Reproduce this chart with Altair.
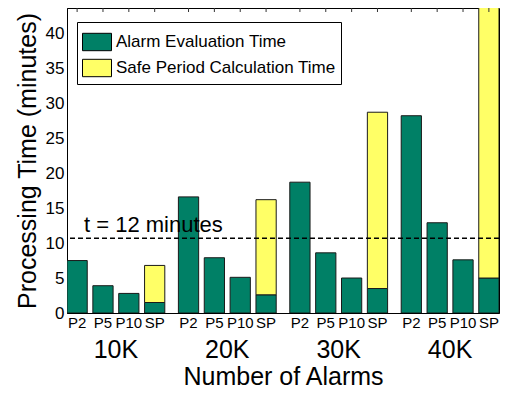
import altair as alt
import pandas as pd

groups = ["10K", "20K", "30K", "40K"]
methods = ["P2", "P5", "P10", "SP"]

# Alarm evaluation time (green) per group, for P2, P5, P10, SP
eval_10k = [7.5, 3.9, 2.8, 1.5]
eval_20k = [16.6, 7.9, 5.1, 2.6]
eval_30k = [18.7, 8.6, 5.0, 3.5]
eval_40k = [28.2, 12.9, 7.6, 5.0]
# Safe period calculation time (yellow), SP only
safe_period = [5.3, 13.6, 25.2, 39.0]

y_ticks = [0, 5, 10, 15, 20, 25, 30, 35, 40]
threshold = 10.7
threshold_label = "t = 12 minutes"

series_names = ["Alarm Evaluation Time", "Safe Period Calculation Time"]
colors = ["#008066", "#FFFF66"]

rows = []
for g, ev, sp in zip(groups, [eval_10k, eval_20k, eval_30k, eval_40k], safe_period):
    for m, v in zip(methods, ev):
        rows.append({"group": g, "method": m, "series": series_names[0], "ord": 0, "value": v})
    rows.append({"group": g, "method": "SP", "series": series_names[1], "ord": 1, "value": sp})
df = pd.DataFrame(rows)

labels_df = pd.DataFrame([{"group": g, "method": m} for g in groups for m in methods])

x_axis = alt.Axis(title="Number of Alarms", labelAngle=0, tickSize=0,
                  labelFontSize=25, labelPadding=24, titleFontSize=25,
                  titleFontWeight="normal", titlePadding=2,
                  domainColor="black", labelColor="black", titleColor="black")
x_scale = alt.Scale(paddingInner=0.122, paddingOuter=0)
xo_scale = alt.Scale(paddingInner=0.217, paddingOuter=0)

y_scale = alt.Scale(domain=[0, 43.6], nice=False)
y_axis = alt.Axis(values=y_ticks, tickSize=0, labelOverlap=False,
                  labelFontSize=17, labelPadding=3, grid=False,
                  title="Processing Time (minutes)", titleFontSize=25,
                  titleFontWeight="normal", titlePadding=5,
                  domainColor="black", labelColor="black", titleColor="black")


def xenc():
    return alt.X("group:N", sort=groups, scale=x_scale, axis=x_axis)


def xoenc():
    return alt.XOffset("method:N", sort=methods, scale=xo_scale)


bars = alt.Chart(df).mark_bar(stroke="#1a1a1a", strokeWidth=1, clip=True).encode(
    x=xenc(),
    xOffset=xoenc(),
    y=alt.Y("sum(value):Q", scale=y_scale, stack="zero", axis=y_axis),
    color=alt.Color("series:N", scale=alt.Scale(domain=series_names, range=colors),
                    legend=alt.Legend(title=None, orient="none", legendX=10, legendY=14,
                                      symbolType="M-1,-0.6H1V0.6H-1Z", symbolSize=841,
                                      symbolStrokeColor="black", symbolStrokeWidth=1,
                                      symbolOpacity=1, labelLimit=0,
                                      labelFontSize=17, labelColor="black", labelOffset=4,
                                      rowPadding=-4, padding=5,
                                      strokeColor="black", fillColor="white")),
    order=alt.Order("ord:Q", sort="ascending"),
)

ticks = alt.Chart(labels_df).mark_rule(color="#333333", strokeWidth=1).encode(
    x=xenc(),
    xOffset=xoenc(),
    y=alt.value(0),
    y2=alt.value(4),
)

bar_labels = alt.Chart(labels_df).mark_text(fontSize=15, baseline="alphabetic", color="black").encode(
    x=xenc(),
    xOffset=xoenc(),
    y=alt.value(320),
    text="method:N",
)

line = alt.Chart(pd.DataFrame({"t": [threshold]})).mark_rule(
    color="black", strokeDash=[5, 3], strokeWidth=1.5
).encode(y=alt.Y("t:Q", scale=y_scale, axis=y_axis))

annot = alt.Chart(pd.DataFrame({"label": [threshold_label], "ypos": [threshold + 0.87]})).mark_text(
    align="left", baseline="alphabetic", fontSize=22, color="black"
).encode(x=alt.value(17), y=alt.Y("ypos:Q", scale=y_scale, axis=y_axis), text="label:N")

chart = alt.layer(bars, line, annot, ticks, bar_labels).properties(
    width=432, height=305,
    autosize=alt.AutoSizeParams(type="none"),
    padding={"left": 59, "top": 0, "right": 1, "bottom": 84},
).configure(
    font="Liberation Sans",
).configure_view(
    stroke="black", strokeWidth=1
)

chart.save("out.html", embed_options={"renderer": "svg", "actions": False})
